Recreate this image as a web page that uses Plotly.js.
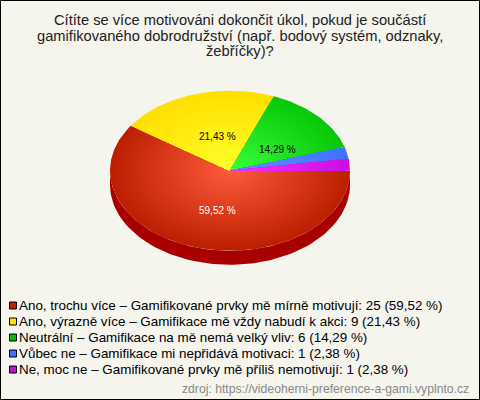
<!DOCTYPE html>
<html>
<head>
<meta charset="utf-8">
<script src="https://cdn.plot.ly/plotly-3.0.1.min.js"></script>
<style>html,body{margin:0;padding:0;background:#f5f5ee}#c{width:480px;height:400px}</style>
</head>
<body>
<div id="c"></div>
<script>
const titleLines = [
  'Cítíte se více motivováni dokončit úkol, pokud je součástí',
  'gamifikovaného dobrodružství (např. bodový systém, odznaky,',
  'žebříčky)?'
];
const categories = [
  'Ano, trochu více – Gamifikované prvky mě mírně motivují',
  'Ano, výrazně více – Gamifikace mě vždy nabudí k akci',
  'Neutrální – Gamifikace na mě nemá velký vliv',
  'Vůbec ne – Gamifikace mi nepřidává motivaci',
  'Ne, moc ne – Gamifikované prvky mě příliš nemotivují'
];
const counts = [25, 9, 6, 1, 1];
const percentLabels = ['59,52 %', '21,43 %', '14,29 %', '2,38 %', '2,38 %'];
const edgeColors = [[188,32,0],[255,224,0],[8,200,8],[64,112,255],[200,16,224]];
const centreColors = [[255,92,60],[255,255,44],[60,255,60],[100,144,255],[255,48,255]];
const swatchColors = ['#c02000','#ffe000','#08b808','#4070ff','#c010d0'];
const sourceText = 'zdroj: https://videoherni-preference-a-gami.vyplnto.cz';

const W = 480, H = 400, cx = 230, cy = 170.7, rx = 120, ry = 80, depth = 14;
const font = 'Liberation Sans, Arial, sans-serif';
const total = counts.reduce((a, b) => a + b, 0);
const traces = [];
const STEPS = 30;

// side wall
const wx = [], wy = [];
for (let d = 0; d <= 180; d += 2) { const t = d * Math.PI / 180; wx.push(Math.cos(t)); wy.push(-Math.sin(t)); }
for (let d = 180; d >= 0; d -= 2) { const t = d * Math.PI / 180; wx.push(Math.cos(t)); wy.push(-Math.sin(t) - depth / ry); }
traces.push({x: wx, y: wy, mode: 'lines', fill: 'toself', fillcolor: '#a80000', line: {width: 0}, hoverinfo: 'skip', showlegend: false});

let start = 0;
counts.forEach((v, i) => {
  const span = v / total * 360;
  const ax = [], ay = [];
  const n = Math.max(4, Math.ceil(span / 1.5));
  for (let k = 0; k <= n; k++) {
    const t = (start + span * k / n) * Math.PI / 180;
    ax.push(Math.cos(t)); ay.push(-Math.sin(t));
  }
  for (let s = STEPS; s >= 1; s--) {
    const f = s / STEPS;
    const c = centreColors[i].map((cc, j) => Math.round(cc + (edgeColors[i][j] - cc) * f));
    traces.push({
      x: [0].concat(ax.map(a => a * f), [0]),
      y: [0].concat(ay.map(a => a * f), [0]),
      mode: 'lines', fill: 'toself', fillcolor: `rgb(${c.join(',')})`,
      line: {width: 0}, hoverinfo: 'skip', showlegend: false
    });
  }
  start += span;
});

const annotations = [];
const shapes = [];
const txt = (text, x, y, size, color, anchor) => annotations.push({
  text, x, y, xref: 'paper', yref: 'paper', xanchor: anchor, yanchor: 'middle',
  showarrow: false, font: {family: font, size, color}
});
titleLines.forEach((t, i) => txt(t, 240 / W, 1 - (20 + i * 15.6) / H, 14.7, '#222222', 'center'));
[[217.5, 210, '#ffffff', 0], [217.5, 136, '#000000', 1], [277, 149, '#000000', 2]].forEach(p => {
  txt(percentLabels[p[3]], p[0] / W, 1 - p[1] / H, 10, p[2], 'center');
});
categories.forEach((c, i) => {
  const yy = 305.5 + i * 16;
  txt(`${c}: ${counts[i]} (${percentLabels[i]})`, 17 / W, 1 - yy / H, 13.4, '#000000', 'left');
  shapes.push({type: 'rect', xref: 'paper', yref: 'paper', x0: 9.5 / W, x1: 16.5 / W,
    y0: 1 - (yy + 3.5) / H, y1: 1 - (yy - 3.5) / H, fillcolor: swatchColors[i], line: {color: '#000', width: 1}});
});
txt(sourceText, 471 / W, 1 - 389 / H, 12.2, '#888888', 'right');
shapes.push({type: 'rect', xref: 'paper', yref: 'paper', x0: 0.5 / W, x1: 479.5 / W, y0: 0.5 / H, y1: 1 - 0.5 / H,
  fillcolor: 'rgba(0,0,0,0)', line: {color: '#000', width: 1}});

const layout = {
  width: W, height: H, margin: {l: 0, r: 0, t: 0, b: 0},
  paper_bgcolor: '#f5f5ee', plot_bgcolor: '#f5f5ee', showlegend: false,
  xaxis: {visible: false, range: [-cx / rx, (W - cx) / rx], fixedrange: true},
  yaxis: {visible: false, range: [-(H - cy) / ry, cy / ry], fixedrange: true},
  shapes, annotations
};
Plotly.newPlot('c', traces, layout, {displayModeBar: false, staticPlot: true});
</script>
</body>
</html>
